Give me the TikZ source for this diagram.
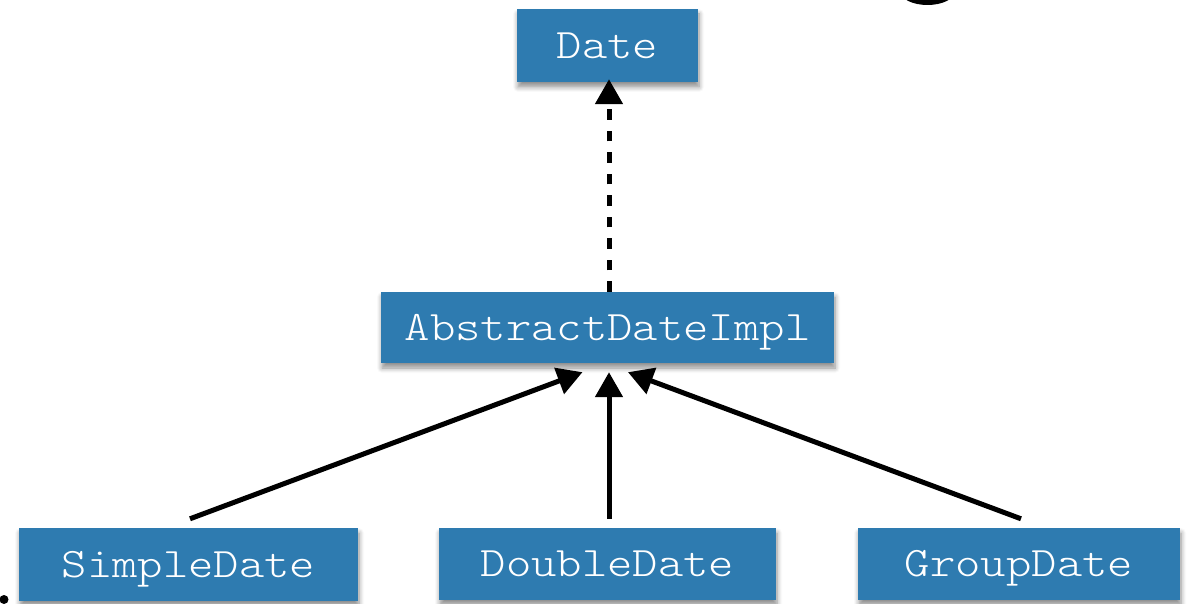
\documentclass[tikz,border=0pt]{standalone}
\usepackage{fontspec}
\newfontfamily\classfont{lmmonolt10-regular.otf}[FakeStretch=1.15]
\usetikzlibrary{arrows.meta,calc,shadows.blur}
\definecolor{boxblue}{RGB}{46,123,176}
\tikzset{
  classbox/.style={fill=boxblue, draw=none, text=white, inner sep=0pt,
    font=\classfont\fontsize{42}{48}\selectfont,
    text height=25.5pt, text depth=0pt,
    blur shadow={shadow xshift=1pt, shadow yshift=-5pt, shadow blur radius=5pt,
      shadow blur steps=6, shadow opacity=45}},
  realize/.style={line width=5pt, dash pattern=on 10.5pt off 11pt,
    -{Triangle[length=25pt,width=27pt]}},
  inherit/.style={line width=5pt, -{Triangle[length=25pt,width=27pt]}}
}
\begin{document}
\begin{tikzpicture}[x=1pt,y=-1pt]
  \useasboundingbox (0,0) rectangle (1187,604);
  \clip (0,0) rectangle (1187,604);
  % class boxes
  \node[classbox, minimum width=181pt, minimum height=73pt] (date) at (607.5,45.5) {Date};
  \node[classbox, minimum width=453pt, minimum height=71pt] (abstract) at (607.5,327.5) {AbstractDateImpl};
  \node[classbox, minimum width=339pt, minimum height=73pt] (simple) at (188.5,564.5) {SimpleDate};
  \node[classbox, minimum width=337pt, minimum height=72pt] (double) at (607.5,564) {DoubleDate};
  \node[classbox, minimum width=322pt, minimum height=72pt] (group) at (1019,564) {GroupDate};
  % interface realization
  \draw[realize] ($(abstract.north)+(1.5,0)$) -- ($(date.south)+(1.5,-3)$);
  % subclasses
  \draw[inherit] ($(simple.north)+(1.5,-9)$) -- ($(abstract.south)+(-25,9)$);
  \draw[inherit] ($(double.north)+(1.5,-9)$) -- ($(abstract.south)+(1.5,9)$);
  \draw[inherit] ($(group.north)+(2,-9)$) -- ($(abstract.south)+(20.5,9)$);
  % stray marks at the edges
  \fill (927.5,-9) ellipse (27.5 and 14);
  \fill (4,599.5) circle (4.5);
\end{tikzpicture}
\end{document}
